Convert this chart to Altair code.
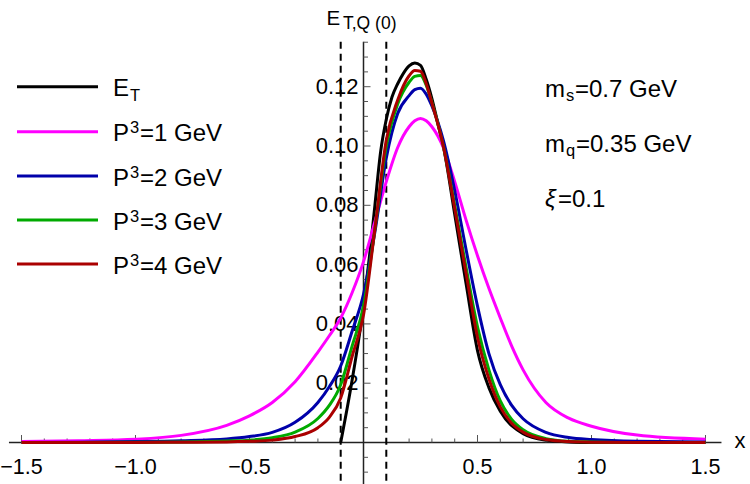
import altair as alt
import pandas as pd
import numpy as np

# ---------------- data ----------------
x_grid = [-1.5, -1.25, -1.0, -0.8, -0.6, -0.5, -0.4, -0.3, -0.2, -0.15, -0.1, -0.05, 0.0,
          0.05, 0.1, 0.15, 0.2, 0.225, 0.25, 0.275, 0.3, 0.35, 0.4, 0.45, 0.5, 0.55, 0.6,
          0.65, 0.7, 0.8, 0.9, 1.0, 1.2, 1.5]
p3_1 = [0.0003, 0.0006, 0.0011, 0.0024, 0.0058, 0.009, 0.0135, 0.0205, 0.0305, 0.036, 0.042,
        0.0505, 0.061, 0.0745, 0.088, 0.0995, 0.1065, 0.1085, 0.1093, 0.1085, 0.1065, 0.0995,
        0.088, 0.075, 0.063, 0.052, 0.042, 0.0325, 0.0245, 0.0135, 0.0082, 0.0055, 0.0025, 0.0011]
p3_2 = [0.0, 0.0001, 0.0003, 0.0006, 0.0012, 0.002, 0.0034, 0.0068, 0.0135, 0.0188, 0.0258,
        0.0375, 0.050, 0.071, 0.096, 0.111, 0.117, 0.119, 0.1195, 0.1175, 0.1135, 0.102,
        0.085, 0.065, 0.046, 0.030, 0.0195, 0.0125, 0.008, 0.0034, 0.0017, 0.001, 0.0004, 0.0002]
p3_3 = [0.0, 0.0, 0.0001, 0.0002, 0.0005, 0.0008, 0.0016, 0.0035, 0.0081, 0.0125, 0.0195,
        0.0325, 0.046, 0.072, 0.100, 0.1142, 0.1215, 0.1235, 0.1238, 0.1205, 0.1147, 0.100,
        0.080, 0.059, 0.039, 0.0245, 0.014, 0.0078, 0.0043, 0.0013, 0.0004, 0.0002, 0.0, 0.0]
p3_4 = [0.0, 0.0, 0.0, 0.0001, 0.0002, 0.0004, 0.0008, 0.002, 0.005, 0.0085, 0.015,
        0.029, 0.043, 0.072, 0.102, 0.1155, 0.1237, 0.1255, 0.1252, 0.121, 0.1145, 0.100,
        0.079, 0.057, 0.0355, 0.0215, 0.012, 0.0065, 0.0035, 0.001, 0.0003, 0.0001, 0.0, 0.0]
et_x = [-0.1, -0.05, 0.0, 0.025, 0.05, 0.075, 0.1, 0.125, 0.15, 0.175, 0.2, 0.225, 0.25,
        0.275, 0.3, 0.325, 0.35, 0.4, 0.45, 0.5, 0.55, 0.6, 0.7, 0.8, 0.9, 1.0, 1.5]
et_y = [0.0, 0.021, 0.046, 0.062, 0.080, 0.098, 0.109, 0.1165, 0.121, 0.1245, 0.127, 0.128,
        0.1272, 0.1225, 0.116, 0.108, 0.100, 0.077, 0.0535, 0.031, 0.0185, 0.0105, 0.003,
        0.0008, 0.0002, 0.0, 0.0]

series_colors = ["#000000", "#FF00FF", "#0000AA", "#00AA00", "#AA0000"]
legend_main = ["E", "P", "P", "P", "P"]
legend_rest = ["", "=1 GeV", "=2 GeV", "=3 GeV", "=4 GeV"]

x_tick_labels = [-1.5, -1.0, -0.5, 0.5, 1.0, 1.5]
y_tick_labels = [0.02, 0.04, 0.06, 0.08, 0.10, 0.12]
xi_lines = [-0.1, 0.1]

# ---------------- layout ----------------
W, H = 750, 484
X0PX, XS = 363.5, 228.0
Y0PX, YS = 442.5, 2965.0
FONT = "Liberation Sans"
xdom = [-X0PX / XS, (W - X0PX) / XS]
ydom = [-(H - Y0PX) / YS, Y0PX / YS]
xs = alt.Scale(domain=xdom, nice=False, zero=False)
ys = alt.Scale(domain=ydom, nice=False, zero=False)

x_major = list(x_tick_labels)
x_minor = [round(v, 1) for v in np.arange(-1.5, 1.51, 0.1)
           if abs(v) > 1e-9 and all(abs(v - m) > 1e-6 for m in x_major)]
y_major = list(y_tick_labels)
y_minor = [round(v, 3) for v in np.arange(-0.01, 0.1351, 0.005)
           if abs(v) > 1e-9 and all(abs(v - m) > 1e-6 for m in y_major)]

layers = []

# axis lines
layers.append(alt.Chart(pd.DataFrame({"a": [0]})).mark_rule(color="#222222", strokeWidth=1.5).encode(
    x=alt.XDatum(-1.555, scale=xs, axis=None), x2=alt.X2Datum(1.57),
    y=alt.YDatum(0, scale=ys, axis=None)))
layers.append(alt.Chart(pd.DataFrame({"a": [0]})).mark_rule(color="#222222", strokeWidth=1.5).encode(
    x=alt.XDatum(0, scale=xs, axis=None),
    y=alt.YDatum(0.1352, scale=ys, axis=None), y2=alt.Y2Datum(ydom[0])))

# ticks
def xticks(vals, size):
    return alt.Chart(pd.DataFrame({"v": vals})).mark_tick(
        orient="vertical", size=size, thickness=1, yOffset=-size / 2, color="#555555", opacity=1).encode(
        x=alt.X("v:Q", scale=xs, axis=None), y=alt.YDatum(0, scale=ys, axis=None))

def yticks(vals, size):
    return alt.Chart(pd.DataFrame({"v": vals})).mark_tick(
        orient="horizontal", size=size, thickness=1, xOffset=size / 2, color="#555555", opacity=1).encode(
        y=alt.Y("v:Q", scale=ys, axis=None), x=alt.XDatum(0, scale=xs, axis=None))

layers += [xticks(x_major, 7.5), xticks(x_minor, 4), yticks(y_major, 7), yticks(y_minor, 4.5)]

# tick labels (through the scales)
layers.append(alt.Chart(pd.DataFrame({"v": x_tick_labels})).mark_text(
    baseline="top", align="center", dy=14, fontSize=21.5, font=FONT, color="black").encode(
    x=alt.X("v:Q", scale=xs, axis=None), y=alt.YDatum(0, scale=ys, axis=None),
    text=alt.Text("v:Q", format=".1f")))
layers.append(alt.Chart(pd.DataFrame({"v": y_tick_labels})).mark_text(
    baseline="middle", align="right", dx=-5, fontSize=22, font=FONT, color="black").encode(
    y=alt.Y("v:Q", scale=ys, axis=None), x=alt.XDatum(0, scale=xs, axis=None),
    text=alt.Text("v:Q", format=".2f")))

# dashed xi lines
layers.append(alt.Chart(pd.DataFrame({"x": xi_lines})).mark_rule(
    color="black", strokeWidth=2, strokeDash=[7, 5]).encode(
    x=alt.X("x:Q", scale=xs, axis=None),
    y=alt.YDatum(0.1352, scale=ys, axis=None), y2=alt.Y2Datum(ydom[0])))

# curves
def curve(xv, yv, color):
    return alt.Chart(pd.DataFrame({"x": xv, "y": yv})).mark_line(
        color=color, strokeWidth=3, interpolate="monotone").encode(
        x=alt.X("x:Q", scale=xs, axis=None), y=alt.Y("y:Q", scale=ys, axis=None))

layers.append(curve(et_x, et_y, series_colors[0]))
layers.append(curve(x_grid, p3_1, series_colors[1]))
layers.append(curve(x_grid, p3_2, series_colors[2]))
layers.append(curve(x_grid, p3_3, series_colors[3]))
layers.append(curve(x_grid, p3_4, series_colors[4]))

# text helper
def txt(s, x, y, size, style="normal", align="left", baseline="alphabetic"):
    return alt.Chart(pd.DataFrame({"t": [s]})).mark_text(
        align=align, baseline=baseline, fontSize=size, font=FONT, fontStyle=style,
        color="black").encode(x=alt.value(x), y=alt.value(y), text="t:N")

# legend
row_y = [86.7, 131.7, 176.0, 220.0, 264.0]
for i, ry in enumerate(row_y):
    layers.append(alt.Chart(pd.DataFrame({"a": [0]})).mark_rule(
        color=series_colors[i], strokeWidth=3).encode(
        x=alt.value(17), x2=alt.value(98), y=alt.value(ry)))
    layers.append(txt(legend_main[i], 113, ry + 9.5, 24))
    if i == 0:
        layers.append(txt("T", 130, ry + 14, 16.5))
    else:
        layers.append(txt("3", 130, ry + 1.5, 16.5))
        layers.append(txt(legend_rest[i], 140, ry + 9.5, 24))

# annotations on the right
layers.append(txt("m", 545, 96.7, 24))
layers.append(txt("s", 566, 101, 16.5))
layers.append(txt("=0.7 GeV", 575, 96.7, 24))
layers.append(txt("m", 545, 151.7, 24))
layers.append(txt("q", 566, 156, 16.5))
layers.append(txt("=0.35 GeV", 576, 151.7, 24))
layers.append(txt("\u03be", 545, 206.7, 24, style="italic"))
layers.append(txt("=0.1", 558, 206.7, 24))

# axis titles
layers.append(txt("E", 326.5, 25, 20.5))
layers.append(txt("T,Q (0)", 343, 29, 17.5))
layers.append(txt("x", 740, 441, 22, align="center", baseline="middle"))

chart = alt.layer(*layers).properties(
    width=W, height=H, padding=0, autosize=alt.AutoSizeParams(type="none")
).configure_view(strokeWidth=0)

chart.save("out.html", embed_options={"renderer": "svg", "actions": False})
